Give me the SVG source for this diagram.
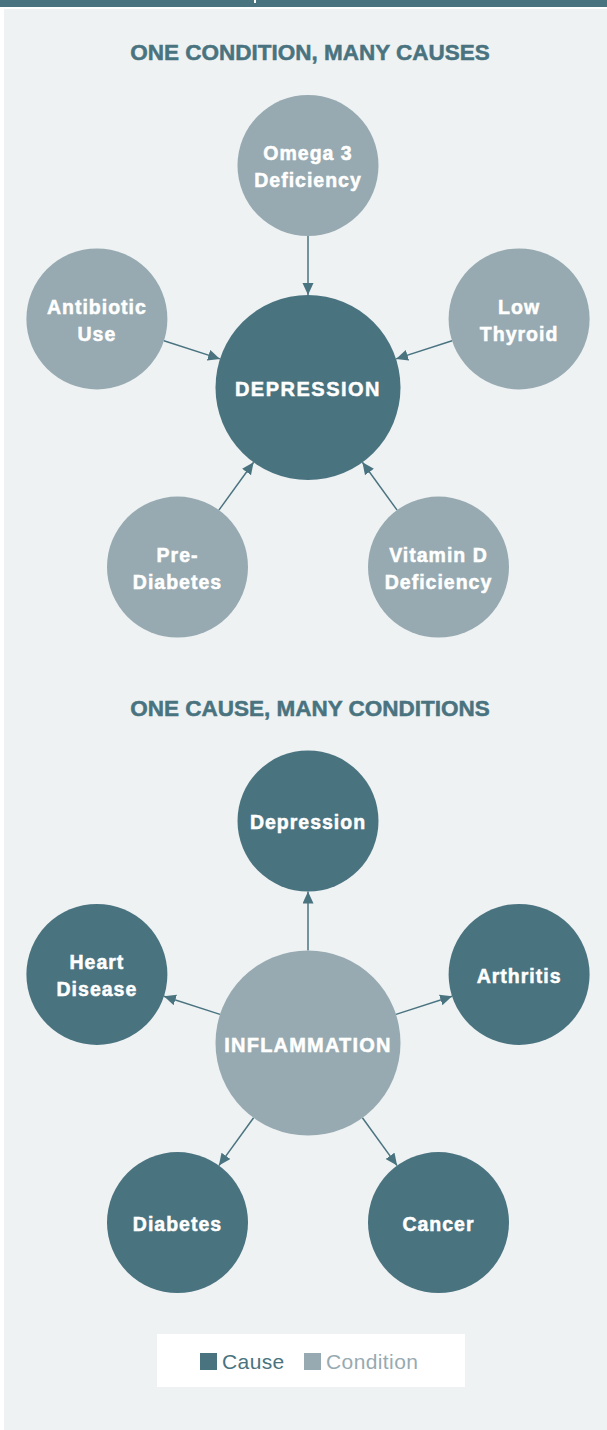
<svg xmlns="http://www.w3.org/2000/svg" width="607" height="1430" viewBox="0 0 607 1430">
<defs>
<style>
.title{font-family:"Liberation Sans",Arial,sans-serif;font-weight:bold;font-size:22.5px;fill:#4A7380;stroke:#4A7380;stroke-width:0.5px;text-anchor:middle}
.dark{fill:#4A7380}
.light{fill:#97AAB1}
.lbl{font-family:"Liberation Sans",Arial,sans-serif;font-weight:bold;font-size:19.5px;fill:#FFFFFF;stroke:#FFFFFF;stroke-width:0.5px;text-anchor:middle;letter-spacing:1px}
.big{font-family:"Liberation Sans",Arial,sans-serif;font-weight:bold;font-size:20px;fill:#FFFFFF;stroke:#FFFFFF;stroke-width:0.5px;text-anchor:middle}
.conn line{stroke:#4A7380;stroke-width:1.5;fill:none;marker-end:url(#arr)}
.leg{font-family:"Liberation Sans",Arial,sans-serif;font-size:21px;letter-spacing:0.4px}
</style>
<marker id="arr" markerUnits="userSpaceOnUse" markerWidth="13" markerHeight="12" refX="12" refY="5.5" orient="auto">
<path d="M0,0 L12,5.5 L0,11 z" fill="#4A7380"/>
</marker>
</defs>
<rect x="0" y="0" width="607" height="1430" fill="#FFFFFF"/>
<rect x="0" y="0" width="607" height="7" fill="#4A7380"/>
<rect x="254" y="0" width="2" height="3" fill="#FFFFFF"/>
<rect x="4" y="9" width="603" height="1421" fill="#EEF2F3"/>

<text class="title" x="310" y="60">ONE CONDITION, MANY CAUSES</text>
<text class="title" x="310" y="716">ONE CAUSE, MANY CONDITIONS</text>

<g id="connectors" class="conn">
<line x1="308" y1="236" x2="308" y2="295"/>
<line x1="163.9" y1="340.7" x2="220" y2="358.9"/>
<line x1="452.1" y1="340.7" x2="396" y2="358.9"/>
<line x1="218.9" y1="510.1" x2="253.6" y2="462.3"/>
<line x1="397.1" y1="510.1" x2="362.4" y2="462.3"/>
<line x1="308" y1="950.5" x2="308" y2="891.5"/>
<line x1="220" y1="1014.4" x2="163.9" y2="996.2"/>
<line x1="396" y1="1014.4" x2="452.1" y2="996.2"/>
<line x1="253.6" y1="1117.8" x2="218.9" y2="1165.6"/>
<line x1="362.4" y1="1117.8" x2="397.1" y2="1165.6"/>
</g>

<g id="depression-main">
<circle class="dark" cx="308" cy="387.5" r="92.5"/>
<text class="big" x="308" y="396" style="letter-spacing:1.5px">DEPRESSION</text>
</g>
<g id="omega3">
<circle class="light" cx="308" cy="165.5" r="70.5"/>
<text class="lbl" x="308" y="160">Omega 3</text>
<text class="lbl" x="308" y="187">Deficiency</text>
</g>
<g id="antibiotic">
<circle class="light" cx="96.9" cy="318.9" r="70.5"/>
<text class="lbl" x="96.9" y="313.5">Antibiotic</text>
<text class="lbl" x="96.9" y="340.5">Use</text>
</g>
<g id="lowthyroid">
<circle class="light" cx="519.1" cy="318.9" r="70.5"/>
<text class="lbl" x="519.1" y="313.5">Low</text>
<text class="lbl" x="519.1" y="340.5">Thyroid</text>
</g>
<g id="prediabetes">
<circle class="light" cx="177.5" cy="567.1" r="70.5"/>
<text class="lbl" x="177.5" y="561.7">Pre-</text>
<text class="lbl" x="177.5" y="588.5">Diabetes</text>
</g>
<g id="vitamind">
<circle class="light" cx="438.5" cy="567.1" r="70.5"/>
<text class="lbl" x="438.5" y="561.7">Vitamin D</text>
<text class="lbl" x="438.5" y="588.5">Deficiency</text>
</g>

<g id="inflammation">
<circle class="light" cx="308" cy="1043" r="92.5"/>
<text class="big" x="308" y="1051.5" style="letter-spacing:1.2px">INFLAMMATION</text>
</g>
<g id="depression">
<circle class="dark" cx="308" cy="821" r="70.5"/>
<text class="lbl" x="308" y="829">Depression</text>
</g>
<g id="heartdisease">
<circle class="dark" cx="96.9" cy="974.4" r="70.5"/>
<text class="lbl" x="96.9" y="968.5">Heart</text>
<text class="lbl" x="96.9" y="995.7">Disease</text>
</g>
<g id="arthritis">
<circle class="dark" cx="519.1" cy="974.4" r="70.5"/>
<text class="lbl" x="519.1" y="982.5">Arthritis</text>
</g>
<g id="diabetes">
<circle class="dark" cx="177.5" cy="1222.6" r="70.5"/>
<text class="lbl" x="177.5" y="1230.5">Diabetes</text>
</g>
<g id="cancer">
<circle class="dark" cx="438.5" cy="1222.6" r="70.5"/>
<text class="lbl" x="438.5" y="1230.5">Cancer</text>
</g>

<g id="legend">
<rect x="157" y="1334" width="308" height="53" fill="#FFFFFF"/>
<rect class="dark" x="200" y="1353" width="17" height="17"/>
<text class="leg" x="222" y="1369" fill="#4A7380">Cause</text>
<rect class="light" x="304" y="1353" width="17" height="17"/>
<text class="leg" x="326" y="1369" fill="#97AAB1">Condition</text>
</g>
</svg>
